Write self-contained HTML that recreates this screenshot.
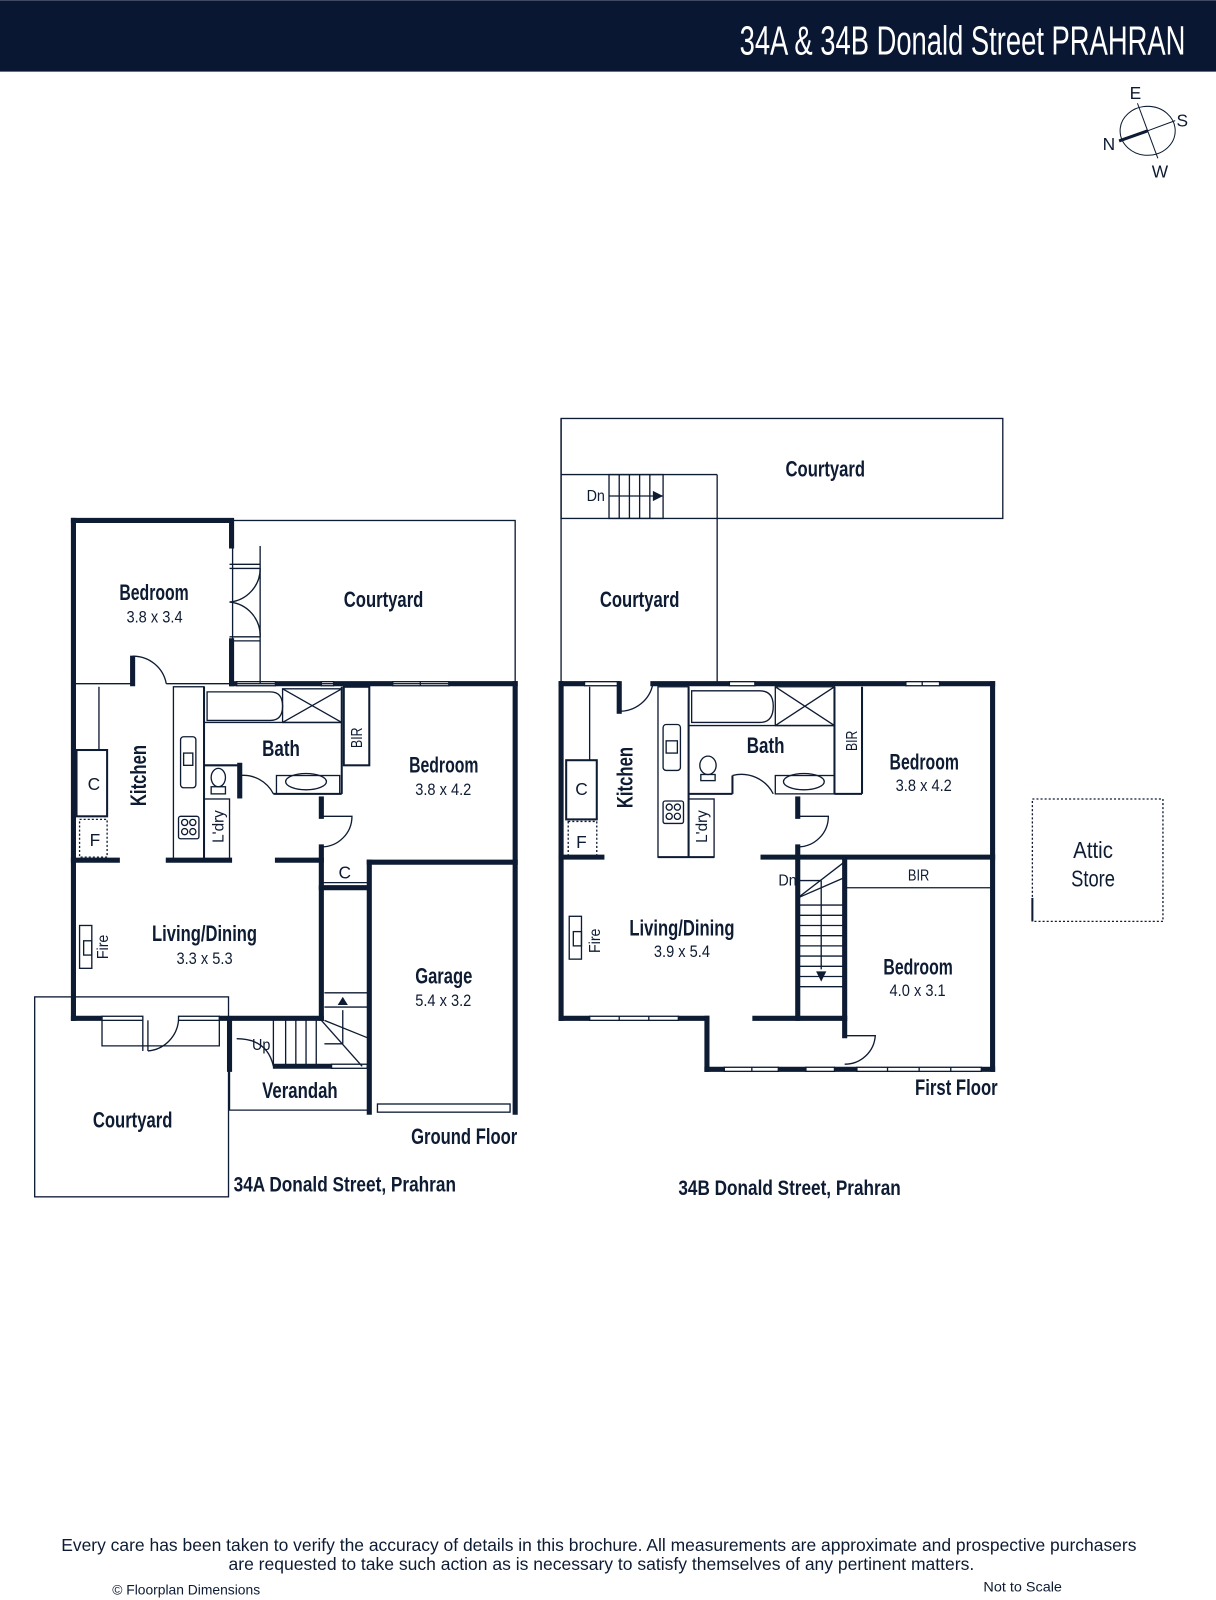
<!DOCTYPE html>
<html><head><meta charset="utf-8"><style>
html,body{margin:0;padding:0;background:#fff}
svg{display:block}
text{font-family:"Liberation Sans Narrow","Liberation Sans",sans-serif;fill:#0d1b33}
.l{font-size:22px;font-weight:bold;text-anchor:middle}
.d{font-size:16px;text-anchor:middle}
.s{font-size:15px;text-anchor:middle}
</style></head><body>
<svg width="1216" height="1600" viewBox="0 0 1192 1568" xmlns="http://www.w3.org/2000/svg">
<rect x="0" y="0" width="1192" height="70" fill="#0a1732"/>
<text x="725" y="53" textLength="437" lengthAdjust="spacingAndGlyphs" style="font-size:40px;fill:#fff">34A &amp; 34B Donald Street PRAHRAN</text>
<!-- compass -->
<g stroke="#0d1b33" fill="none">
<ellipse cx="1125" cy="128" rx="27" ry="24" stroke-width="1"/>
<line x1="1115" y1="101" x2="1135" y2="155" stroke-width="1"/>
<line x1="1152" y1="118" x2="1125" y2="128" stroke-width="1"/>
<line x1="1125" y1="128" x2="1097" y2="138" stroke-width="3"/>
</g>
<text x="1113" y="97" style="font-size:17px;text-anchor:middle">E</text>
<text x="1159" y="124" style="font-size:17px;text-anchor:middle">S</text>
<text x="1087" y="147" style="font-size:17px;text-anchor:middle">N</text>
<text x="1137" y="174" style="font-size:17px;text-anchor:middle">W</text>

<g stroke="#0d1b33" fill="none">
<!-- ===== 34A thin ===== -->
<g stroke-width="1.3">
<rect x="228" y="510" width="277" height="160"/>
<rect x="34" y="977" width="190" height="196"/>
<polyline points="225,1048 225,1088 362,1088"/>
<line x1="72" y1="670" x2="128" y2="670"/>
<line x1="163" y1="670" x2="225" y2="670"/>
<line x1="97" y1="673" x2="97" y2="735"/>
<rect x="75" y="735" width="30" height="65" stroke-width="2"/>
<rect x="78" y="803" width="27" height="37" stroke-dasharray="2,2"/>
<rect x="170" y="673" width="30" height="170"/>
<rect x="177" y="722" width="15" height="50" rx="3"/>
<rect x="180" y="738" width="9" height="12"/>
<rect x="175" y="800" width="20" height="22" rx="2"/>
<circle cx="181" cy="806" r="3"/><circle cx="189" cy="806" r="3"/><circle cx="181" cy="815" r="3"/><circle cx="189" cy="815" r="3"/>
<rect x="200" y="783" width="25" height="60"/>
<path d="M203,678 H265 Q277,678 277,692 Q277,706 265,706 H203 Z"/>
<rect x="277" y="675" width="58" height="33"/>
<line x1="277" y1="675" x2="335" y2="708"/><line x1="335" y1="675" x2="277" y2="708"/>
<line x1="200" y1="708" x2="335" y2="708"/>
<ellipse cx="214" cy="762" rx="7" ry="9"/><rect x="207" y="771" width="14" height="7"/>
<rect x="271" y="760" width="62" height="18"/>
<ellipse cx="300" cy="766" rx="20" ry="8"/>
<rect x="337" y="673" width="25" height="77" stroke-width="2"/>
<path d="M130,643 A33,33 0 0 1 163,670"/>
<path d="M235,760 A33,33 0 0 1 268,778"/>
<path d="M315,830 A30,30 0 0 0 345,800 L315,800"/>
<line x1="225" y1="553" x2="255" y2="553"/><line x1="225" y1="557" x2="255" y2="557"/>
<line x1="225" y1="624" x2="255" y2="624"/><line x1="225" y1="628" x2="255" y2="628"/>
<line x1="255" y1="535" x2="255" y2="670"/>
<path d="M225,590 A33,33 0 0 0 255,557"/><path d="M225,590 A33,33 0 0 1 255,624"/>
<rect x="78" y="907" width="12" height="42"/><rect x="82" y="922" width="8" height="14"/>
<polyline points="100,1000 100,1025 215,1025 215,1000"/>
<line x1="140" y1="1000" x2="140" y2="1030"/><line x1="145" y1="1000" x2="145" y2="1030"/>
<path d="M145,1030 A33,33 0 0 0 175,1000"/>
<path d="M232,1018 Q262,1018 268,1045"/>
<line x1="315" y1="1000" x2="355" y2="1045"/>
<line x1="318" y1="973" x2="360" y2="973"/>
<line x1="318" y1="987" x2="360" y2="987"/>
<line x1="318" y1="1000" x2="360" y2="1017"/>
<line x1="336" y1="990" x2="336" y2="1023"/><line x1="318" y1="1023" x2="336" y2="1023"/>
<line x1="268" y1="1000" x2="268" y2="1045"/><line x1="280" y1="1000" x2="280" y2="1045"/>
<line x1="290" y1="1000" x2="290" y2="1045"/><line x1="300" y1="1000" x2="300" y2="1045"/>
<line x1="310" y1="1000" x2="310" y2="1045"/>
<rect x="370" y="1082" width="130" height="8"/>
<line x1="362" y1="865" x2="315" y2="865"/>
<!-- windows 34A -->
<rect x="232" y="668" width="38" height="4"/>
<rect x="315" y="668" width="12" height="4"/>
<rect x="385" y="668" width="55" height="4"/><line x1="412" y1="668" x2="412" y2="672"/>
<rect x="100" y="996" width="40" height="4"/>
<rect x="175" y="996" width="40" height="4"/>
<rect x="325" y="1043" width="35" height="4"/>
<!-- windows 34B -->
<rect x="573" y="668" width="34" height="4"/>
<rect x="715" y="668" width="25" height="4"/>
<rect x="888" y="668" width="33" height="4"/><line x1="904" y1="668" x2="904" y2="672"/>
<rect x="578" y="996" width="87" height="4"/><line x1="607" y1="996" x2="607" y2="1000"/><line x1="636" y1="996" x2="636" y2="1000"/>
<rect x="710" y="1046" width="53" height="4"/><line x1="737" y1="1046" x2="737" y2="1050"/>
<rect x="790" y="1046" width="28" height="4"/>
<rect x="840" y="1046" width="122" height="4"/><line x1="870" y1="1046" x2="870" y2="1050"/><line x1="901" y1="1046" x2="901" y2="1050"/><line x1="932" y1="1046" x2="932" y2="1050"/>
</g>
<path d="M331,985 L336,977 L341,985 Z" fill="#0d1b33" stroke="none"/>
<!-- 34A thick -->
<g stroke-width="5" stroke-linecap="square">
<polyline points="72,510 227,510 227,535"/>
<line x1="227" y1="628" x2="227" y2="670"/>
<line x1="72" y1="510" x2="72" y2="998"/>
<line x1="130" y1="645" x2="130" y2="670"/>
<line x1="227" y1="670" x2="230" y2="670"/>
<line x1="272" y1="670" x2="313" y2="670"/>
<line x1="329" y1="670" x2="383" y2="670"/>
<line x1="442" y1="670" x2="505" y2="670"/>
<line x1="505" y1="670" x2="505" y2="1090"/>
<line x1="72" y1="843" x2="115" y2="843"/>
<line x1="165" y1="843" x2="225" y2="843"/>
<line x1="272" y1="843" x2="315" y2="843"/>
<line x1="362" y1="845" x2="505" y2="845"/>
<line x1="362" y1="845" x2="362" y2="1090"/>
<line x1="315" y1="783" x2="315" y2="800"/>
<line x1="315" y1="830" x2="315" y2="865"/>
<line x1="315" y1="870" x2="315" y2="998"/>
<line x1="315" y1="870" x2="360" y2="870"/>
<line x1="72" y1="998" x2="98" y2="998"/>
<line x1="217" y1="998" x2="315" y2="998"/>
<line x1="225" y1="1000" x2="225" y2="1048"/>
<line x1="270" y1="1045" x2="323" y2="1045"/>
<line x1="235" y1="750" x2="235" y2="780"/>
</g>
<g stroke-width="2">
<line x1="200" y1="673" x2="200" y2="843"/>
<line x1="200" y1="750" x2="235" y2="750"/>
<line x1="268" y1="778" x2="335" y2="778"/>
<line x1="335" y1="673" x2="335" y2="778"/>
</g>

<!-- ===== 34B thin ===== -->
<g stroke-width="1.3">
<rect x="550" y="410" width="433" height="98"/>
<line x1="550" y1="465" x2="703" y2="465"/>
<line x1="703" y1="465" x2="703" y2="670"/>
<line x1="550" y1="410" x2="550" y2="670"/>
<rect x="597" y="465" width="53" height="43"/>
<line x1="607" y1="465" x2="607" y2="508"/><line x1="617" y1="465" x2="617" y2="508"/>
<line x1="627" y1="465" x2="627" y2="508"/><line x1="637" y1="465" x2="637" y2="508"/>
<line x1="597" y1="486" x2="650" y2="486"/>
<line x1="578" y1="673" x2="578" y2="745"/>
<rect x="555" y="745" width="30" height="58" stroke-width="2"/>
<rect x="557" y="805" width="28" height="35" stroke-dasharray="2,2"/>
<rect x="645" y="673" width="30" height="167"/>
<rect x="650" y="710" width="17" height="45" rx="3"/><rect x="653" y="726" width="11" height="12"/>
<rect x="650" y="785" width="20" height="22" rx="2"/>
<circle cx="656" cy="791" r="3"/><circle cx="664" cy="791" r="3"/><circle cx="656" cy="800" r="3"/><circle cx="664" cy="800" r="3"/>
<rect x="675" y="783" width="25" height="57"/>
<path d="M678,677 H745 Q758,677 758,692 Q758,708 745,708 H678 Z"/>
<rect x="760" y="673" width="58" height="38"/>
<line x1="760" y1="673" x2="818" y2="711"/><line x1="818" y1="673" x2="760" y2="711"/>
<line x1="675" y1="711" x2="818" y2="711"/>
<ellipse cx="694" cy="750" rx="8" ry="9"/><rect x="687" y="759" width="14" height="6"/>
<rect x="760" y="760" width="58" height="18"/>
<ellipse cx="788" cy="766" rx="20" ry="8"/>
<path d="M607,697 A33,33 0 0 0 640,670"/>
<path d="M718,760 A35,35 0 0 1 758,778"/>
<path d="M782,830 A30,30 0 0 0 812,800 L782,800"/>
<rect x="558" y="898" width="12" height="42"/><rect x="562" y="913" width="8" height="14"/>
<line x1="828" y1="870" x2="973" y2="870"/>
<line x1="782" y1="880" x2="830" y2="843"/>
<line x1="782" y1="880" x2="828" y2="860"/>
<line x1="782" y1="863" x2="805" y2="863"/>
<line x1="805" y1="863" x2="805" y2="950"/>
<line x1="782" y1="887" x2="828" y2="887"/><line x1="782" y1="897" x2="828" y2="897"/>
<line x1="782" y1="907" x2="828" y2="907"/><line x1="782" y1="917" x2="828" y2="917"/>
<line x1="782" y1="927" x2="828" y2="927"/><line x1="782" y1="937" x2="828" y2="937"/>
<line x1="782" y1="947" x2="828" y2="947"/><line x1="782" y1="957" x2="828" y2="957"/>
<line x1="782" y1="967" x2="828" y2="967"/>
<path d="M828,1015 L858,1015 A30,30 0 0 1 828,1043"/>
<rect x="1012" y="783" width="128" height="120" stroke-dasharray="2,2"/>
</g>
<path d="M640,481 L650,486 L640,491 Z" fill="#0d1b33" stroke="none"/>
<path d="M800,952 L810,952 L805,962 Z" fill="#0d1b33" stroke="none"/>
<line x1="1012" y1="880" x2="1012" y2="903" stroke-width="2"/>
<!-- 34B thick -->
<g stroke-width="5" stroke-linecap="square">
<line x1="550" y1="670" x2="550" y2="998"/>
<line x1="550" y1="670" x2="571" y2="670"/>
<line x1="607" y1="670" x2="607" y2="697"/>
<line x1="640" y1="670" x2="713" y2="670"/>
<line x1="742" y1="670" x2="886" y2="670"/>
<line x1="923" y1="670" x2="973" y2="670"/>
<line x1="973" y1="670" x2="973" y2="1048"/>
<line x1="550" y1="998" x2="576" y2="998"/>
<line x1="667" y1="998" x2="693" y2="998"/>
<line x1="693" y1="998" x2="693" y2="1048"/>
<line x1="693" y1="1048" x2="708" y2="1048"/>
<line x1="765" y1="1048" x2="788" y2="1048"/>
<line x1="820" y1="1048" x2="838" y2="1048"/>
<line x1="964" y1="1048" x2="973" y2="1048"/>
<line x1="550" y1="840" x2="590" y2="840"/>
<line x1="748" y1="840" x2="973" y2="840"/>
<line x1="782" y1="783" x2="782" y2="800"/>
<line x1="782" y1="830" x2="782" y2="998"/>
<line x1="828" y1="843" x2="828" y2="1015"/>
<line x1="740" y1="998" x2="828" y2="998"/>
</g>
<g stroke-width="2">
<line x1="675" y1="673" x2="675" y2="840"/>
<line x1="675" y1="778" x2="718" y2="778"/>
<line x1="718" y1="778" x2="718" y2="760"/>
<line x1="818" y1="673" x2="818" y2="778"/>
<line x1="845" y1="673" x2="845" y2="778"/>
<line x1="818" y1="778" x2="845" y2="778"/>
<line x1="645" y1="840" x2="700" y2="840"/>
</g>
</g>

<!-- 34A labels -->
<text class="l" x="117" y="588" textLength="68" lengthAdjust="spacingAndGlyphs" style="text-anchor:start">Bedroom</text><text class="d" x="124" y="610" textLength="55" lengthAdjust="spacingAndGlyphs" style="text-anchor:start">3.8 x 3.4</text>
<text class="l" x="337" y="595" textLength="78" lengthAdjust="spacingAndGlyphs" style="text-anchor:start">Courtyard</text>
<text class="l" x="257" y="741" textLength="37" lengthAdjust="spacingAndGlyphs" style="text-anchor:start">Bath</text>
<text class="l" x="401" y="757" textLength="68" lengthAdjust="spacingAndGlyphs" style="text-anchor:start">Bedroom</text><text class="d" x="407" y="779" textLength="55" lengthAdjust="spacingAndGlyphs" style="text-anchor:start">3.8 x 4.2</text>
<text class="l" x="0" y="0" transform="translate(143,790) rotate(-90)" textLength="60" lengthAdjust="spacingAndGlyphs" style="text-anchor:start">Kitchen</text>
<text class="s" x="0" y="0" transform="translate(355,733) rotate(-90)" textLength="20" lengthAdjust="spacingAndGlyphs" style="text-anchor:start">BIR</text>
<text class="s" x="0" y="0" transform="translate(219,826) rotate(-90)" textLength="32" lengthAdjust="spacingAndGlyphs" style="text-anchor:start">L'dry</text>
<text class="s" x="0" y="0" transform="translate(106,940) rotate(-90)" textLength="24" lengthAdjust="spacingAndGlyphs" style="text-anchor:start">Fire</text>
<text class="s" x="92" y="774" style="font-size:17px">C</text>
<text class="s" x="93" y="829" style="font-size:17px">F</text>
<text class="s" x="338" y="861" style="font-size:17px">C</text>
<text class="l" x="149" y="922" textLength="103" lengthAdjust="spacingAndGlyphs" style="text-anchor:start">Living/Dining</text><text class="d" x="173" y="945" textLength="55" lengthAdjust="spacingAndGlyphs" style="text-anchor:start">3.3 x 5.3</text>
<text class="l" x="407" y="964" textLength="56" lengthAdjust="spacingAndGlyphs" style="text-anchor:start">Garage</text><text class="d" x="407" y="986" textLength="55" lengthAdjust="spacingAndGlyphs" style="text-anchor:start">5.4 x 3.2</text>
<text class="s" x="247" y="1029" textLength="18" lengthAdjust="spacingAndGlyphs" style="text-anchor:start">Up</text>
<text class="l" x="257" y="1076" textLength="74" lengthAdjust="spacingAndGlyphs" style="text-anchor:start">Verandah</text>
<text class="l" x="91" y="1105" textLength="78" lengthAdjust="spacingAndGlyphs" style="text-anchor:start">Courtyard</text>
<text class="l" x="403" y="1121" textLength="104" lengthAdjust="spacingAndGlyphs" style="text-anchor:start">Ground Floor</text>
<text class="l" x="229" y="1168" textLength="218" lengthAdjust="spacingAndGlyphs" style="text-anchor:start;font-size:21px">34A Donald Street, Prahran</text>
<!-- 34B labels -->
<text class="l" x="770" y="467" textLength="78" lengthAdjust="spacingAndGlyphs" style="text-anchor:start">Courtyard</text>
<text class="s" x="575" y="491" textLength="18" lengthAdjust="spacingAndGlyphs" style="text-anchor:start">Dn</text>
<text class="l" x="588" y="595" textLength="78" lengthAdjust="spacingAndGlyphs" style="text-anchor:start">Courtyard</text>
<text class="l" x="732" y="738" textLength="37" lengthAdjust="spacingAndGlyphs" style="text-anchor:start">Bath</text>
<text class="l" x="872" y="754" textLength="68" lengthAdjust="spacingAndGlyphs" style="text-anchor:start">Bedroom</text><text class="d" x="878" y="775" textLength="55" lengthAdjust="spacingAndGlyphs" style="text-anchor:start">3.8 x 4.2</text>
<text class="l" x="0" y="0" transform="translate(620,792) rotate(-90)" textLength="60" lengthAdjust="spacingAndGlyphs" style="text-anchor:start">Kitchen</text>
<text class="s" x="0" y="0" transform="translate(840,736) rotate(-90)" textLength="20" lengthAdjust="spacingAndGlyphs" style="text-anchor:start">BIR</text>
<text class="s" x="0" y="0" transform="translate(693,826) rotate(-90)" textLength="32" lengthAdjust="spacingAndGlyphs" style="text-anchor:start">L'dry</text>
<text class="s" x="0" y="0" transform="translate(588,934) rotate(-90)" textLength="24" lengthAdjust="spacingAndGlyphs" style="text-anchor:start">Fire</text>
<text class="s" x="570" y="779" style="font-size:17px">C</text>
<text class="s" x="570" y="831" style="font-size:17px">F</text>
<text class="s" x="763" y="868" textLength="18" lengthAdjust="spacingAndGlyphs" style="text-anchor:start">Dn</text>
<text class="s" x="890" y="863" textLength="21" lengthAdjust="spacingAndGlyphs" style="text-anchor:start">BIR</text>
<text class="l" x="617" y="917" textLength="103" lengthAdjust="spacingAndGlyphs" style="text-anchor:start">Living/Dining</text><text class="d" x="641" y="938" textLength="55" lengthAdjust="spacingAndGlyphs" style="text-anchor:start">3.9 x 5.4</text>
<text class="l" x="866" y="955" textLength="68" lengthAdjust="spacingAndGlyphs" style="text-anchor:start">Bedroom</text><text class="d" x="872" y="976" textLength="55" lengthAdjust="spacingAndGlyphs" style="text-anchor:start">4.0 x 3.1</text>
<text class="l" x="897" y="1073" textLength="81" lengthAdjust="spacingAndGlyphs" style="text-anchor:start">First Floor</text>
<text class="l" x="665" y="1171" textLength="218" lengthAdjust="spacingAndGlyphs" style="text-anchor:start;font-size:21px">34B Donald Street, Prahran</text>
<text class="l" x="1052" y="841" textLength="39" lengthAdjust="spacingAndGlyphs" style="text-anchor:start;font-weight:normal;font-size:23px">Attic</text>
<text class="l" x="1050" y="869" textLength="43" lengthAdjust="spacingAndGlyphs" style="text-anchor:start;font-weight:normal;font-size:23px">Store</text>
<!-- footer -->
<text x="60" y="1520" textLength="1054" lengthAdjust="spacingAndGlyphs" style="font-size:17px">Every care has been taken to verify the accuracy of details in this brochure. All measurements are approximate and prospective purchasers</text>
<text x="224" y="1539" textLength="731" lengthAdjust="spacingAndGlyphs" style="font-size:17px">are requested to take such action as is necessary to satisfy themselves of any pertinent matters.</text>
<text x="110" y="1563" textLength="145" lengthAdjust="spacingAndGlyphs" style="font-size:14px">© Floorplan Dimensions</text>
<text x="964" y="1560" textLength="77" lengthAdjust="spacingAndGlyphs" style="font-size:14px">Not to Scale</text>
</svg>
</body></html>
